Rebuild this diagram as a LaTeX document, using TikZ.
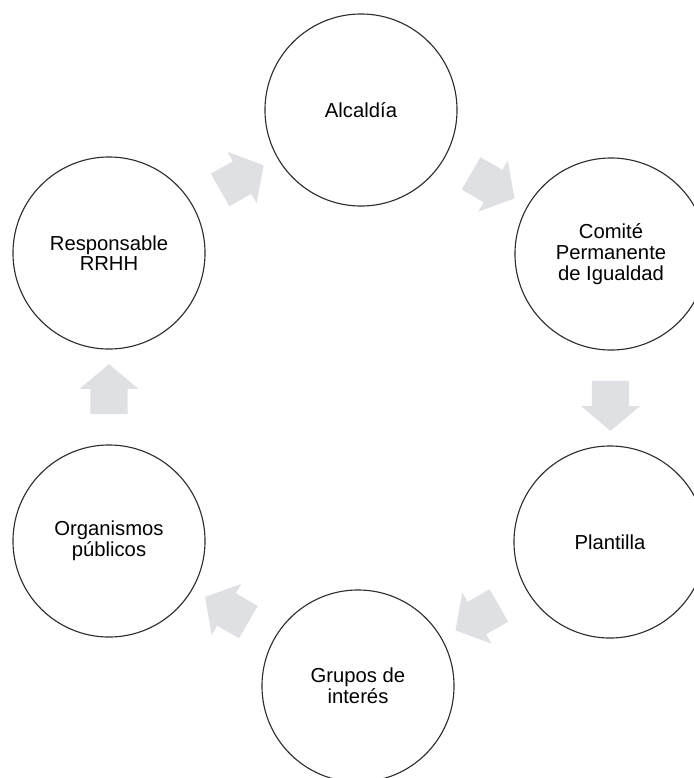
\documentclass[tikz,border=0pt]{standalone}
\usepackage{fontspec}
\setmainfont{Liberation Sans}
\usetikzlibrary{shapes.arrows}
\definecolor{Ink}{HTML}{2E2E2E}
\definecolor{Haze}{HTML}{DFE0E4}
\tikzset{
  actor/.style={
    circle, draw=Ink, line width=0.8pt, fill=white,
    minimum size=4.8cm, inner sep=0pt, align=center,
    font=\fontsize{14.4}{14.7}\selectfont
  },
  link/.style={
    single arrow, fill=Haze, draw=none, midway, sloped, allow upside down,
    minimum height=1.25cm, minimum width=0pt,
    inner xsep=0pt, inner ysep=0.46cm,
    single arrow head extend=0.27cm, single arrow tip angle=100
  }
}

\begin{document}
\begin{tikzpicture}[x=0.025cm,y=-0.025cm]
    \clip (0,0) rectangle (694,778);
    \fill[white] (0,0) rectangle (694,778);

    \node[actor] (alc) at (361,110) {Alcaldía};
    \node[actor] (com) at (611,254) {Comité\\Permanente\\de Igualdad};
    \node[actor] (pla) at (610,542) {Plantilla};
    \node[actor] (gru) at (358,686) {Grupos de\\interés};
    \node[actor] (org) at (109,541) {Organismos\\públicos};
    \node[actor] (res) at (109,253) {Responsable\\RRHH};

    % clockwise flow
    \path (res) -- (alc) node[link] (l1) {};
    \path (alc) -- (com) node[link] (l2) {};
    \path (com) -- (pla) node[link] (l3) {};
    \path (pla) -- (gru) node[link] (l4) {};
    \path (gru) -- (org) node[link] (l5) {};
    \path (org) -- (res) node[link] (l6) {};
\end{tikzpicture}
\end{document}
